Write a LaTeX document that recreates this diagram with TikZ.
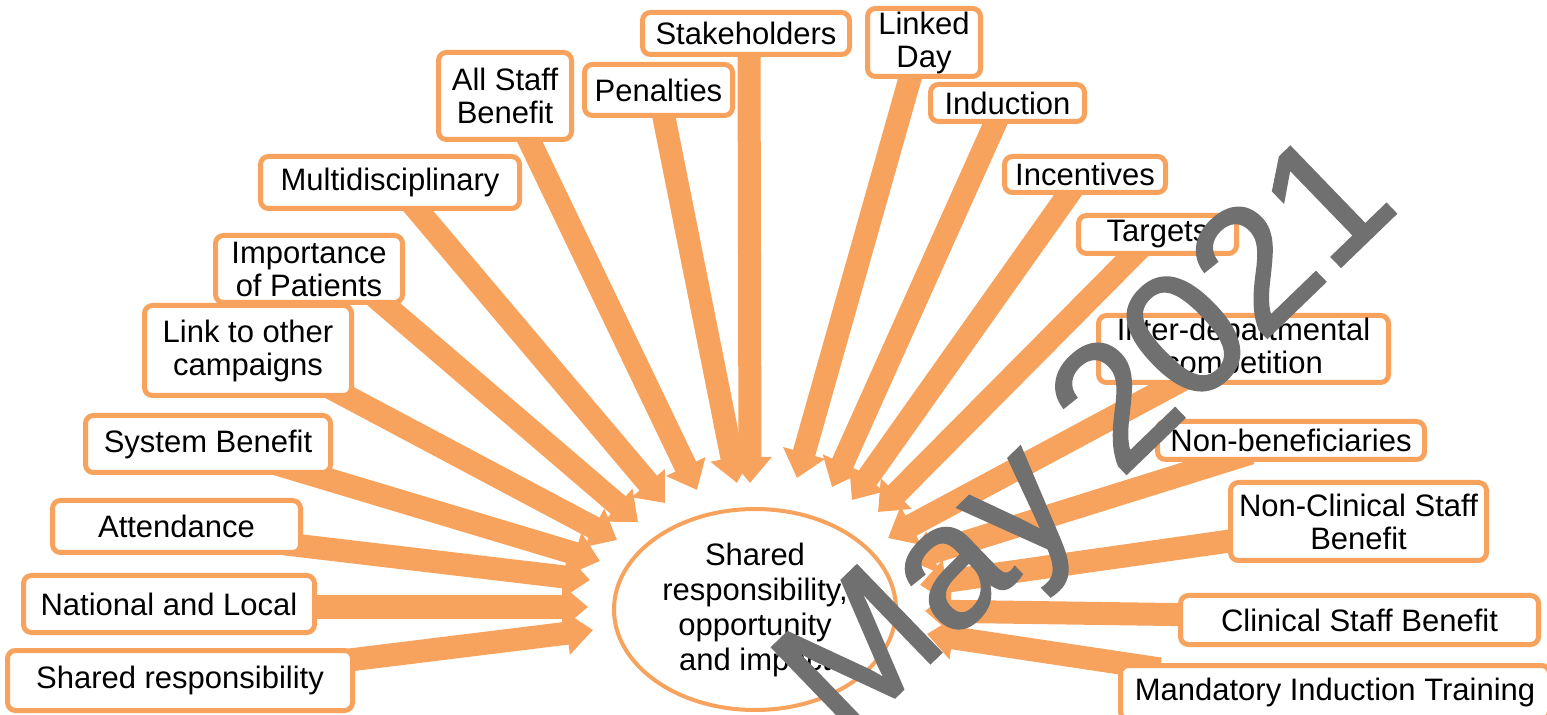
\documentclass[tikz,border=0pt]{standalone}
\usepackage{fontspec}
\setmainfont{Liberation Sans}
\newfontfamily\wmfont{Liberation Sans}[FakeBold=1.4]
\usetikzlibrary{arrows.meta,shapes.geometric}
\definecolor{org}{RGB}{247,163,94}
\definecolor{wm}{RGB}{112,112,112}
\begin{document}
\begin{tikzpicture}[x=0.5pt,y=-0.5pt,
  box/.style={draw=org, line width=2.5pt, fill=white, rounded corners=4pt, inner sep=0pt,
    align=center, font=\fontsize{15.5pt}{16.5pt}\selectfont},
  arr/.style={draw=org, line width=11.5pt, -{Triangle[length=13pt,width=21pt]}},
  core/.style={draw=org, line width=2pt, fill=white, ellipse, inner sep=0pt, align=center,
    font=\fontsize{15.5pt}{17.5pt}\selectfont},
  wmark/.style={text=wm, inner sep=0pt, font=\wmfont\fontsize{88pt}{90pt}\selectfont}
]
\useasboundingbox (0,0) rectangle (1547,715);

% arrow tips
\coordinate (tshared) at (593,630);
\coordinate (tnat) at (588,607);
\coordinate (tatt) at (590,580);
\coordinate (tsys) at (600,561);
\coordinate (tlink) at (617,540);
\coordinate (timp) at (638,522);
\coordinate (tmulti) at (665,503);
\coordinate (tall) at (697,490);
\coordinate (tpen) at (737,483);
\coordinate (tstake) at (750,483);
\coordinate (tlinked) at (797,478);
\coordinate (tinduct) at (832,487);
\coordinate (tincent) at (852,500);
\coordinate (ttargets) at (878,512);
\coordinate (tinter) at (888,538);
\coordinate (tnonben) at (908,560);
\coordinate (tnoncl) at (920,585);
\coordinate (tclin) at (925,611);
\coordinate (tmand) at (927,634);

% box centres
\coordinate (cshared) at (180,680.5);
\coordinate (cnat) at (169,604);
\coordinate (catt) at (176.5,526.5);
\coordinate (csys) at (208,444);
\coordinate (clink) at (248,350.5);
\coordinate (cimp) at (309,269);
\coordinate (cmulti) at (390,182.5);
\coordinate (call) at (505,96);
\coordinate (cpen) at (658.5,90);
\coordinate (cstake) at (746,33.5);
\coordinate (clinked) at (924,42.5);
\coordinate (cinduct) at (1007.5,103);
\coordinate (cincent) at (1085,174.5);
\coordinate (ctargets) at (1157.5,234.5);
\coordinate (cinter) at (1243.5,349);
\coordinate (cnonben) at (1291,440.5);
\coordinate (cnoncl) at (1358.5,521.5);
\coordinate (cclin) at (1359.5,620);
\coordinate (cmand) at (1335,692.5);

% ---- arrows (drawn under the boxes)
\draw[arr] ([shift={(145,-17.5)}]cshared) -- (tshared);
\draw[arr] ([shift={(118,3)}]cnat) -- (tnat);
\draw[arr] ([shift={(96.5,16)}]catt) -- (tatt);
\draw[arr] ([shift={(52,15)}]csys) -- (tsys);
\draw[arr] ([shift={(66,28.5)}]clink) -- (tlink);
\draw[arr] ([shift={(50,14)}]cimp) -- (timp);
\draw[arr] ([shift={(8,4.5)}]cmulti) -- (tmulti);
\draw[arr] ([shift={(12,19)}]call) -- (tall);
\draw[arr] (cpen) -- (tpen);
\draw[arr] ([shift={(3,0)}]cstake) -- (tstake);
\draw[arr] ([shift={(-6,7.5)}]clinked) -- (tlinked);
\draw[arr] ([shift={(-4.5,3)}]cinduct) -- (tinduct);
\draw[arr] ([shift={(-5,3.5)}]cincent) -- (tincent);
\draw[arr] ([shift={(-11.5,7.5)}]ctargets) -- (ttargets);
\draw[arr] ([shift={(-44.5,22)}]cinter) -- (tinter);
\draw[arr] ([shift={(-40,12.5)}]cnonben) -- (tnonben);
\draw[arr] ([shift={(-100.5,15.5)}]cnoncl) -- (tnoncl);
\draw[arr] ([shift={(-151.5,-5)}]cclin) -- (tclin);
\draw[arr] ([shift={(-175,-23.5)}]cmand) -- (tmand);

% ---- boxes
\node[box, minimum width=103.5pt, minimum height=21pt] (stake) at (cstake) {Stakeholders};
\node[box, minimum width=74pt, minimum height=25.5pt] (pen) at (cpen) {Penalties};
\node[box, minimum width=66.5pt, minimum height=43.5pt] (all) at (call) {All Staff\\Benefit};
\node[box, minimum width=129.5pt, minimum height=26pt] (multi) at (cmulti) {Multidisciplinary};
\node[box, minimum width=93.5pt, minimum height=33.5pt] (imp) at (cimp) {Importance\\of Patients};
\node[box, minimum width=103.5pt, minimum height=45pt] (link) at (clink) {Link to other\\campaigns};
\node[box, minimum width=122.5pt, minimum height=28.5pt] (sys) at (csys) {System Benefit};
\node[box, minimum width=124pt, minimum height=26pt] (att) at (catt) {Attendance};
\node[box, minimum width=145.5pt, minimum height=28.5pt] (nat) at (cnat) {National and Local};
\node[box, minimum width=172.5pt, minimum height=30pt] (shared) at (cshared) {Shared responsibility};
\node[box, minimum width=56.5pt, minimum height=34pt] (linked) at (clinked) {Linked\\Day};
\node[box, minimum width=77pt, minimum height=18.5pt] (induct) at (cinduct) {Induction};
\node[box, minimum width=80.5pt, minimum height=18pt] (incent) at (cincent) {Incentives};
\node[box, minimum width=79pt, minimum height=19pt] (targets) at (ctargets) {Targets};
\node[box, minimum width=145pt, minimum height=33.5pt] (inter) at (cinter) {Inter-departmental\\competition};
\node[box, minimum width=133.5pt, minimum height=19pt] (nonben) at (cnonben) {Non-beneficiaries};
\node[box, minimum width=128pt, minimum height=39pt] (noncl) at (cnoncl) {Non-Clinical Staff\\Benefit};
\node[box, minimum width=179pt, minimum height=24.5pt] (clin) at (cclin) {Clinical Staff Benefit};
\node[box, minimum width=214.5pt, minimum height=27pt] (mand) at (cmand) {Mandatory Induction Training};

% ---- centre
\node[core, minimum width=141pt, minimum height=100.5pt] (hub) at (755,609.5)
  {Shared\\responsibility,\\opportunity\\and impact};

% ---- watermark
\node[wmark, rotate=44, anchor=base] (wmk) at (1124,476) {May 2021};
\end{tikzpicture}
\end{document}
